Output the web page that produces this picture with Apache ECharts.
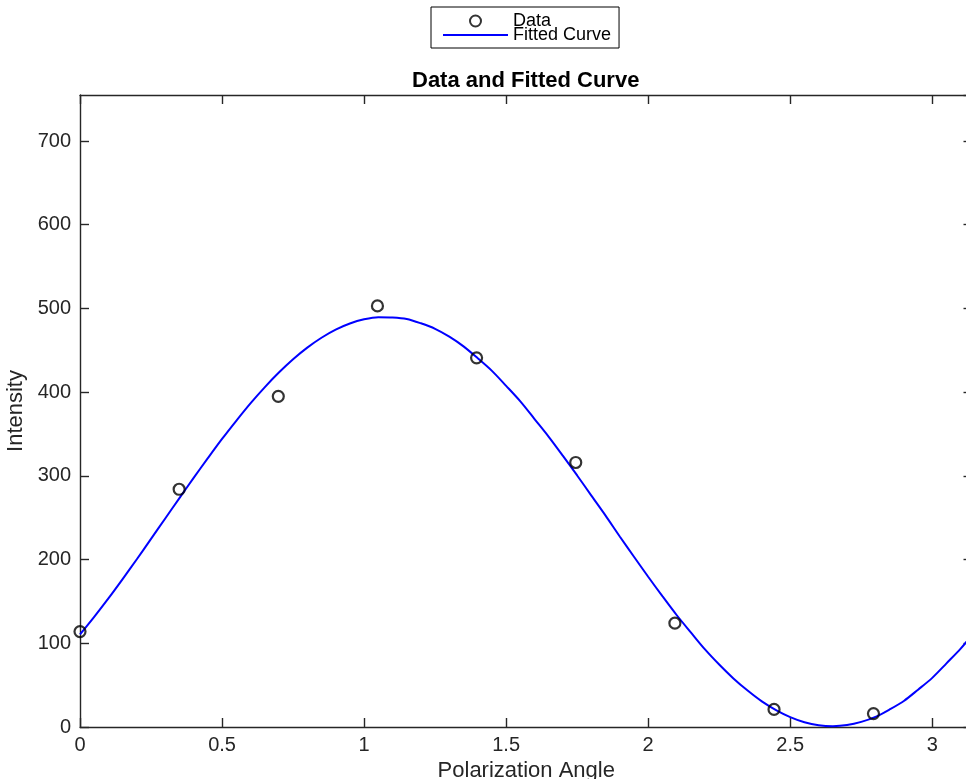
<!DOCTYPE html>
<html>
<head>
<meta charset="utf-8">
<script src="https://cdn.jsdelivr.net/npm/echarts@6/dist/echarts.min.js"></script>
<style>
html,body{margin:0;padding:0;background:#fff;}
#chart{width:966px;height:779px;}
</style>
</head>
<body>
<div id="chart"></div>
<script>
// Measured data points
var angles = [0, 0.349, 0.698, 1.047, 1.396, 1.745, 2.094, 2.443, 2.793];
var intensity = [114, 284, 395, 503, 441, 316, 124, 21, 16];

// Fitted curve
var fitX = [0, 0.05, 0.1, 0.15, 0.2, 0.25, 0.3, 0.35, 0.4, 0.45, 0.5, 0.55, 0.6, 0.65, 0.7, 0.75,
            0.8, 0.85, 0.9, 0.95, 1.0, 1.05, 1.1, 1.15, 1.2, 1.25, 1.3, 1.35, 1.4, 1.45, 1.5, 1.55,
            1.6, 1.65, 1.7, 1.75, 1.8, 1.85, 1.9, 1.95, 2.0, 2.05, 2.1, 2.15, 2.2, 2.25, 2.3, 2.35,
            2.4, 2.45, 2.5, 2.55, 2.6, 2.65, 2.7, 2.75, 2.8, 2.85, 2.9, 2.95, 3.0, 3.05, 3.1, 3.1416];
var fitY = [110.6, 131.6, 153.6, 176.7, 200.4, 224.7, 249.1, 273.5, 297.6, 321.1, 344.1, 365.8,
            386.6, 405.8, 423.4, 439.3, 453.2, 465.0, 474.7, 482.0, 487.0, 489.6, 489.3, 487.5,
            482.3, 475.7, 466.3, 454.7, 440.5, 425.4, 407.5, 389.0, 367.9, 346.7, 323.9, 300.5,
            276.4, 252.5, 227.6, 203.4, 179.5, 156.3, 133.8, 113.1, 92.7, 74.6, 58.0, 43.5,
            30.6, 20.2, 11.8, 5.7, 2.1, 1.0, 2.3, 6.1, 12.1, 21.0, 31.1, 44.6, 58.7, 76.0, 93.6, 110.6];

var xTickStep = 0.5;
var yTickStep = 100;
var xMax = 3.1416;
var yMax = 755;

var FONT = '"Liberation Sans", Arial, Helvetica, sans-serif';
var AX = '#262626';

var chart = echarts.init(document.getElementById('chart'), null, {renderer: 'canvas'});

var dataPairs = angles.map(function (a, i) { return [a, intensity[i]]; });
var fitPairs = fitX.map(function (a, i) { return [a, fitY[i]]; });

function axisLineStyle() {
  return {show: true, onZero: false, lineStyle: {color: AX, width: 1.4}};
}
function tickStyle() {
  return {show: true, inside: true, length: 9, lineStyle: {color: AX, width: 1.4}};
}

var option = {
  backgroundColor: '#ffffff',
  animation: false,
  title: {
    text: 'Data and Fitted Curve',
    left: 412,
    top: 70,
    padding: 0,
    textStyle: {fontFamily: FONT, fontWeight: 'bold', fontSize: 22, color: '#000'}
  },
  legend: {
    orient: 'vertical',
    left: 431,
    top: 7,
    padding: [5, 8, 4, 12],
    itemGap: -4,
    itemWidth: 65,
    itemHeight: 11,
    symbolKeepAspect: true,
    selectedMode: false,
    borderColor: '#000',
    borderWidth: 1,
    backgroundColor: '#fff',
    textStyle: {fontFamily: FONT, fontSize: 18, color: '#000'},
    data: [
      {name: 'Data'},
      {name: 'Fitted Curve', icon: 'path://M0,0L100,0L100,3L0,3Z', itemStyle: {color: '#0000ff'}}
    ]
  },
  grid: {
    left: 80,
    right: -6.5,
    top: 95,
    bottom: 52,
    containLabel: false,
    outerBoundsMode: 'none'
  },
  xAxis: [
    {
      type: 'value',
      min: 0,
      max: xMax,
      interval: xTickStep,
      position: 'bottom',
      name: 'Polarization Angle',
      nameLocation: 'middle',
      nameGap: 21,
      nameTextStyle: {fontFamily: FONT, fontSize: 22, color: AX},
      axisLine: axisLineStyle(),
      axisTick: tickStyle(),
      axisLabel: {show: true, margin: 8, fontFamily: FONT, fontSize: 20, color: AX,
                  showMaxLabel: false, showMinLabel: true},
      splitLine: {show: false}
    },
    {
      type: 'value',
      min: 0,
      max: xMax,
      interval: xTickStep,
      position: 'top',
      axisLine: axisLineStyle(),
      axisTick: tickStyle(),
      axisLabel: {show: false},
      splitLine: {show: false}
    }
  ],
  yAxis: [
    {
      type: 'value',
      min: 0,
      max: yMax,
      interval: yTickStep,
      position: 'left',
      name: 'Intensity',
      nameLocation: 'middle',
      nameGap: 46,
      nameTextStyle: {fontFamily: FONT, fontSize: 22, color: AX},
      axisLine: axisLineStyle(),
      axisTick: tickStyle(),
      axisLabel: {show: true, margin: 9, fontFamily: FONT, fontSize: 20, color: AX,
                  showMaxLabel: false, showMinLabel: true},
      splitLine: {show: false}
    },
    {
      type: 'value',
      min: 0,
      max: yMax,
      interval: yTickStep,
      position: 'right',
      axisLine: axisLineStyle(),
      axisTick: tickStyle(),
      axisLabel: {show: false},
      splitLine: {show: false}
    }
  ],
  series: [
    {
      name: 'Data',
      type: 'scatter',
      xAxisIndex: 0,
      yAxisIndex: 0,
      symbol: 'circle',
      symbolSize: 11,
      itemStyle: {color: 'rgba(255,255,255,0)', borderColor: '#000', borderWidth: 2.2},
      data: dataPairs,
      z: 3
    },
    {
      name: 'Fitted Curve',
      type: 'line',
      xAxisIndex: 0,
      yAxisIndex: 0,
      smooth: 0.3,
      symbol: 'none',
      showSymbol: false,
      lineStyle: {color: '#0000ff', width: 2},
      itemStyle: {color: '#0000ff'},
      data: fitPairs,
      z: 2
    }
  ]
};

chart.setOption(option);
</script>
</body>
</html>
